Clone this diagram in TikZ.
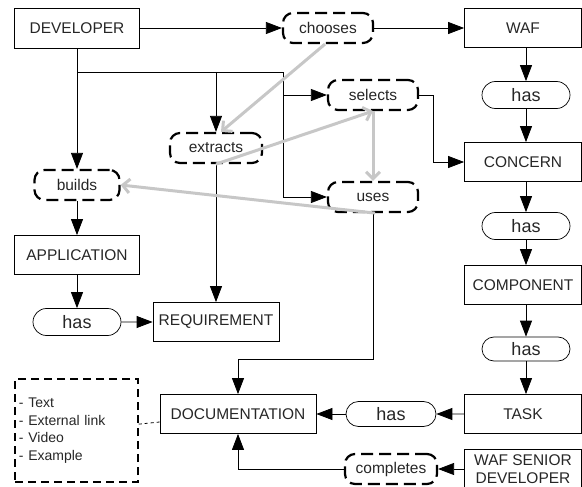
\documentclass[tikz,border=0pt]{standalone}
\usepackage{fontspec}
\setmainfont{Liberation Sans}
\usetikzlibrary{shapes.misc,arrows.meta}
\begin{document}
\begin{tikzpicture}[x=1pt,y=-1pt,
 every node/.style={font=\fontsize{15.5}{18}\selectfont, text=black!85},
 box/.style={draw, line width=0.8pt, minimum width=117pt, minimum height=39pt, inner sep=2pt},
 act/.style={draw, line width=2.2pt, dash pattern=on 12pt off 6pt, rounded corners=10pt, minimum width=90pt, minimum height=30pt, inner sep=2pt},
 hasn/.style={draw, rounded rectangle, line width=0.7pt, minimum width=90pt, minimum height=27pt, inner sep=1pt, font=\fontsize{18}{20}\selectfont},
 arr/.style={line width=0.8pt, -{Triangle[length=16pt,width=12pt]}},
 garr/.style={line width=3pt, draw=black!22, -{Straight Barb[length=7pt,width=14pt]}},
 ln/.style={line width=0.8pt}
]
\useasboundingbox (0,0) rectangle (582,487);
\clip (0,0) rectangle (582,487);

\node[box, minimum width=125pt, minimum height=40pt] (dev) at (77,28) {DEVELOPER};
\node[act] (choose) at (328,28) {chooses};
\node[box] (waf) at (523,28) {WAF};
\node[hasn] (h1) at (526,95) {has};
\node[act] (sel) at (373,95) {selects};
\node[box] (con) at (523,162) {CONCERN};
\node[act, minimum width=92pt] (ext) at (216,148) {extracts};
\node[act, minimum width=85pt] (build) at (77,185) {builds};
\node[act] (uses) at (373,197) {uses};
\node[hasn] (h2) at (526,226) {has};
\node[box, minimum width=125pt] (app) at (77,255) {APPLICATION};
\node[box] (comp) at (523,285) {COMPONENT};
\node[hasn] (h5) at (77,322) {has};
\node[box, minimum width=126pt] (req) at (216,322) {REQUIREMENT};
\node[hasn, minimum height=24pt] (h3) at (526,349) {has};
\node[box] (task) at (523,414) {TASK};
\node[hasn, minimum height=25pt, minimum width=92pt] (h4) at (391,414) {has};
\node[box, minimum width=156pt] (doc) at (238,414) {DOCUMENTATION};
\node[box, align=center, font=\fontsize{15.5}{17.5}\selectfont] (sen) at (523,469) {WAF SENIOR\\DEVELOPER};
\node[act, minimum width=92pt] (compl) at (391,469) {completes};
\node[draw, line width=1.5pt, dash pattern=on 8pt off 5pt, text width=115pt, align=left, minimum height=103pt, inner sep=4pt, font=\fontsize{14}{17.5}\selectfont] (list) at (76.5,430.5) {- Text\\- External link\\- Video\\- Example};

\coordinate (j1) at (77,72);
\coordinate (j2) at (216,72);
\coordinate (j3) at (283,72);
\coordinate (j4) at (283,95);
\coordinate (j5) at (283,197);
\coordinate (k1) at (433,95);
\coordinate (k2) at (433,162);
\coordinate (u1) at (373,359);
\coordinate (u2) at (238,359);
\coordinate (c1) at (238,469);

\draw[arr] (dev) -- (choose);
\draw[arr] (choose) -- (waf);
\draw[arr] (dev.south) -- (build.north);
\draw[ln] (j1) -- (j3) -- (j5);
\draw[arr] (j2) -- (ext.north);
\draw[arr] (j4) -- (sel.west);
\draw[arr] (j5) -- (uses.west);
\draw[arr] (sel.east) -- (k1) -- (k2) -- (con.west);
\draw[arr] (build) -- (app);
\draw[arr] (app) -- (h5);
\draw[arr] (h5) -- (req);
\draw[arr] (ext.south) -- (req.north);
\draw[arr] (waf.south -| h1.north) -- (h1.north);
\draw[arr] (h1.south) -- (con.north -| h1.south);
\draw[arr] (con.south -| h2.north) -- (h2.north);
\draw[arr] (h2.south) -- (comp.north -| h2.south);
\draw[arr] (comp.south -| h3.north) -- (h3.north);
\draw[arr] (h3.south) -- (task.north -| h3.south);
\draw[arr] (task) -- (h4);
\draw[arr] (h4) -- (doc);
\draw[arr] (uses.south) -- (u1) -- (u2) -- (doc.north);
\draw[arr] (sen) -- (compl);
\draw[arr] (compl.west) -- (c1) -- (doc.south);
\draw[ln, dashed] (list) -- (doc);

\draw[garr] ([xshift=-3pt]choose.south) -- ([xshift=5pt]ext.north);
\draw[garr] (ext.south) -- (sel.south);
\draw[garr] (sel.south) -- (uses.north);
\draw[garr] ([xshift=2pt]uses.south) -- (build.east);
\end{tikzpicture}
\end{document}
